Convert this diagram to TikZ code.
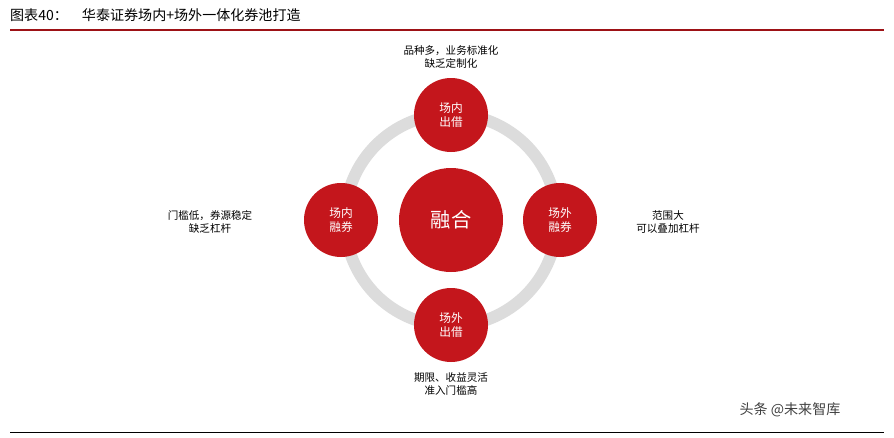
\documentclass[tikz,border=0pt]{standalone}
\usepackage{fontspec}
\newfontfamily\cjk{Noto Sans CJK SC}
\definecolor{cred}{RGB}{196,22,28}
\definecolor{ring}{RGB}{220,220,220}
\begin{document}
\begin{tikzpicture}[x=0.03cm,y=-0.03cm,font=\cjk,
  small/.style={circle,fill=cred,minimum size=74*0.03cm,inner sep=0,text=white,align=center,font=\cjk\normalsize},
  note/.style={align=center,font=\cjk\small,text=black}]
\useasboundingbox (0,0) rectangle (894,437);
\node[anchor=west,font=\cjk\large] (title) at (6,15) {图表40：\quad 华泰证券场内+场外一体化券池打造};
\draw[cred!80!black,line width=1.2pt] (10,30) -- (884,30);
\draw[ring,line width=12*0.03cm] (451,220) circle[radius=106];
\node[circle,fill=cred,minimum size=104*0.03cm,text=white,font=\cjk\LARGE] (c) at (451,220) {融合};
\node[small] (t) at (451,115) {场内\\出借};
\node[small] (l) at (341,220) {场内\\融券};
\node[small] (r) at (560,220) {场外\\融券};
\node[small] (b) at (451,325) {场外\\出借};
\node[note] (tn) at (451,57) {品种多，业务标准化\\缺乏定制化};
\node[note] (ln) at (210,222) {门槛低，券源稳定\\缺乏杠杆};
\node[note] (rn) at (668,222) {范围大\\可以叠加杠杆};
\node[note] (bn) at (451,384) {期限、收益灵活\\准入门槛高};
\node[font=\cjk\large,text=black!75] (wm) at (790,410) {头条 @未来智库};
\draw[black,line width=0.8pt] (10,432) -- (884,432);
\end{tikzpicture}
\end{document}
